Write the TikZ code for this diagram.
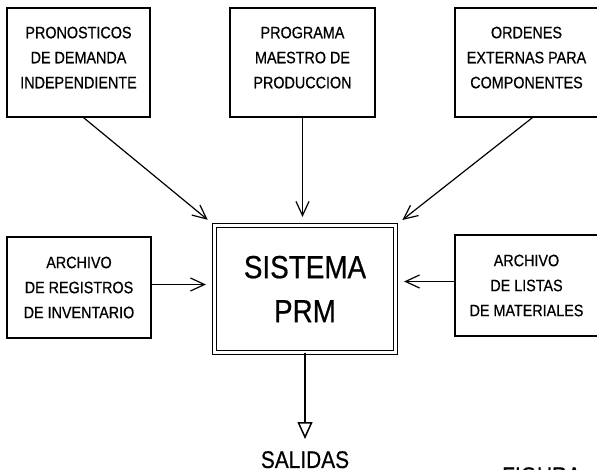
\documentclass[tikz,border=0pt]{standalone}
\usepackage{fontspec}
\setmainfont[FakeStretch=0.87,FakeBold=0.6]{Liberation Sans}
\usetikzlibrary{arrows.meta}

\begin{document}
\begin{tikzpicture}[x=1pt,y=-1pt,
    caja/.style={draw,line width=1.2pt,align=center,inner sep=0pt,font=\fontsize{16.5}{25}\selectfont},
    flecha/.style={line width=1.2pt,-{Straight Barb[length=14pt,width=13pt]},shorten >=8pt},
    salida/.style={line width=1.5pt,-{Triangle[open,length=17pt,width=15pt]},shorten >=12pt},
    rotulo/.style={inner sep=0pt,font=\fontsize{24}{28}\selectfont}]
    \useasboundingbox (0,0) rectangle (597,470);
    \node[caja,minimum width=143pt,minimum height=109pt,text depth=10pt] (pron) at (78.5,62.5)
      {PRONOSTICOS\\DE DEMANDA\\INDEPENDIENTE};
    \node[caja,minimum width=145pt,minimum height=109pt,text depth=10pt] (prog) at (302.5,62.5)
      {PROGRAMA\\MAESTRO DE\\PRODUCCION};
    \node[caja,minimum width=143pt,minimum height=109pt,text depth=10pt] (orden) at (526.5,62.5)
      {ORDENES\\EXTERNAS PARA\\COMPONENTES};
    \node[caja,minimum width=144pt,minimum height=101pt] (regis) at (79,287.5)
      {ARCHIVO\\DE REGISTROS\\DE INVENTARIO};
    \node[caja,minimum width=143pt,minimum height=101pt] (listas) at (526.5,285.5)
      {ARCHIVO\\DE LISTAS\\DE MATERIALES};
    \node[draw,line width=1.2pt,double,double distance=3.5pt,align=center,
      minimum width=181pt,minimum height=127pt,font=\fontsize{32}{44}\selectfont] (prm) at (305,289)
      {SISTEMA\\PRM};
    \node[rotulo,anchor=north] (salidas) at (305,451) {SALIDAS};
    \node[rotulo,anchor=north west] (figura) at (502,467) {FIGURA};
    \draw[flecha] ([xshift=5pt]pron.south) -- (prm.north west);
    \draw[flecha] (prog.south) -- (prog.south |- prm.north);
    \draw[flecha] ([xshift=6pt]orden.south) -- (prm.north east);
    \draw[flecha] ([yshift=3pt]regis.east) -- ([yshift=3pt]regis.east -| prm.west);
    \draw[flecha] ([yshift=4pt]listas.west) -- ([yshift=4pt]listas.west -| prm.east);
    \draw[salida] (prm.south) -- (salidas.north);
\end{tikzpicture}
\end{document}
